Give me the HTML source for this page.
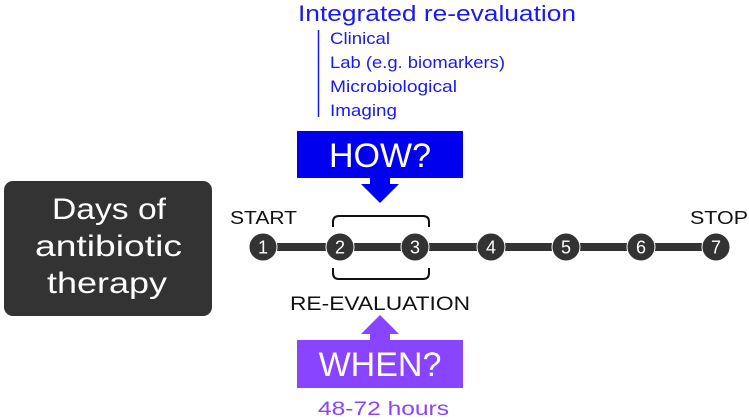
<!DOCTYPE html>
<html><head><meta charset="utf-8"><style>
html,body{margin:0;padding:0;background:#fff;}
svg{display:block;}
text{font-family:"Liberation Sans",sans-serif;}
</style></head><body>
<svg width="749" height="419" viewBox="0 0 749 419" xmlns="http://www.w3.org/2000/svg">
<rect x="0" y="0" width="749" height="419" fill="#fff"/>
<text x="298" y="21" font-size="22" fill="#1a1aee" textLength="278" lengthAdjust="spacingAndGlyphs">Integrated re-evaluation</text>
<line x1="318.5" y1="30" x2="318.5" y2="117" stroke="#1a1aee" stroke-width="1.5"/>
<g font-size="17" fill="#1a1aee">
<text x="330" y="44" textLength="60" lengthAdjust="spacingAndGlyphs">Clinical</text>
<text x="330" y="68" textLength="175" lengthAdjust="spacingAndGlyphs">Lab (e.g. biomarkers)</text>
<text x="330" y="92" textLength="127" lengthAdjust="spacingAndGlyphs">Microbiological</text>
<text x="330" y="116" textLength="67" lengthAdjust="spacingAndGlyphs">Imaging</text>
</g>
<rect x="297" y="131" width="166" height="47" fill="#0000ee"/>
<polygon points="370,177 390,177 390,184 399,184 380,203 361,184 370,184" fill="#0000ee"/>
<text x="380" y="167" font-size="34" fill="#fff" text-anchor="middle">HOW?</text>
<rect x="4" y="181" width="208" height="135" rx="9" fill="#333"/>
<g font-size="30" fill="#fff">
<text x="52" y="219" textLength="114" lengthAdjust="spacingAndGlyphs">Days of</text>
<text x="35" y="256" textLength="147" lengthAdjust="spacingAndGlyphs">antibiotic</text>
<text x="47" y="293" textLength="120" lengthAdjust="spacingAndGlyphs">therapy</text>
</g>
<text x="230" y="224" font-size="18" fill="#111" textLength="67" lengthAdjust="spacingAndGlyphs">START</text>
<text x="690" y="224" font-size="18" fill="#111" textLength="58" lengthAdjust="spacingAndGlyphs">STOP</text>
<rect x="263" y="243" width="453" height="8" fill="#333"/>
<g fill="#333" stroke="#fff" stroke-width="1">
<circle cx="263" cy="247" r="14"/><circle cx="340" cy="247" r="14"/><circle cx="415" cy="247" r="14"/>
<circle cx="491" cy="247" r="14"/><circle cx="566" cy="247" r="14"/><circle cx="641" cy="247" r="14"/>
<circle cx="716" cy="247" r="14"/>
</g>
<g font-size="18" fill="#fff" text-anchor="middle">
<text x="263" y="253.5">1</text><text x="340" y="253.5">2</text><text x="415" y="253.5">3</text>
<text x="491" y="253.5">4</text><text x="566" y="253.5">5</text><text x="641" y="253.5">6</text>
<text x="716" y="253.5">7</text>
</g>
<path d="M333,227 L333,222 Q333,216 339,216 L423,216 Q429,216 429,222 L429,227" fill="none" stroke="#111" stroke-width="2"/>
<path d="M333,268 L333,273 Q333,279 339,279 L423,279 Q429,279 429,273 L429,268" fill="none" stroke="#111" stroke-width="2"/>
<text x="290" y="310" font-size="19" fill="#111" textLength="180" lengthAdjust="spacingAndGlyphs">RE-EVALUATION</text>
<polygon points="380,315 399,334 390,334 390,341 370,341 370,334 361,334" fill="#8844ff"/>
<rect x="297" y="340" width="166" height="48" fill="#8844ff"/>
<text x="380" y="376" font-size="34" fill="#fff" text-anchor="middle">WHEN?</text>
<text x="318" y="415" font-size="19" fill="#8844ff" textLength="131" lengthAdjust="spacingAndGlyphs">48-72 hours</text>
</svg>
</body></html>
